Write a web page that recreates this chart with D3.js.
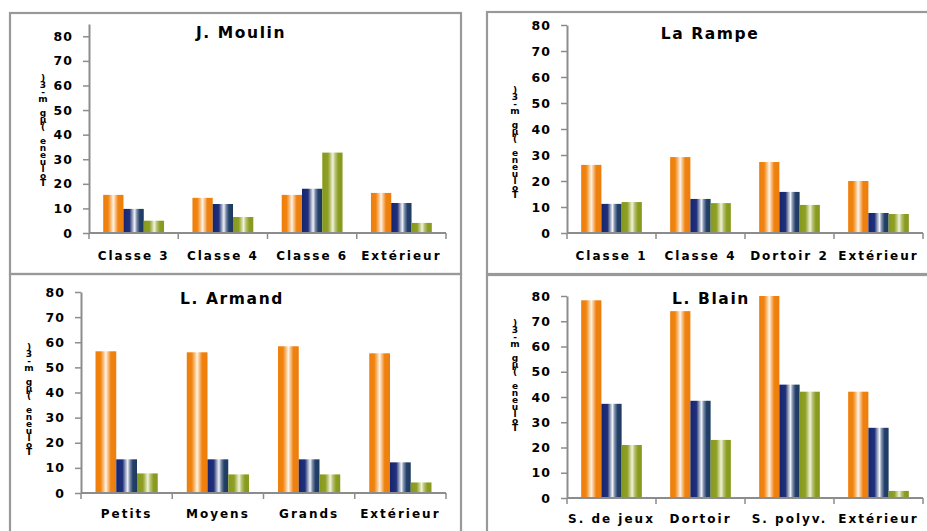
<!DOCTYPE html>
<html>
<head>
<meta charset="utf-8">
<script src="https://cdn.jsdelivr.net/npm/d3@7"></script>
<style>
  html, body { margin: 0; padding: 0; background: #fff; }
  svg { display: block; }
</style>
</head>
<body>
<svg id="chart" width="927" height="531"></svg>
<script>
// Toluene concentrations per site: three series per location
const yTicks = [0, 10, 20, 30, 40, 50, 60, 70, 80];
const yAxisLabel = "Toluene (µg m-3)";

const moulinTitle = "J. Moulin";
const moulinCategories = ["Classe 3", "Classe 4", "Classe 6", "Extérieur"];
const moulinS1 = [15.5, 14.3, 15.5, 16.3];
const moulinS2 = [9.8, 11.8, 18.0, 12.2];
const moulinS3 = [5.0, 6.5, 32.7, 4.1];

const rampeTitle = "La Rampe";
const rampeCategories = ["Classe 1", "Classe 4", "Dortoir 2", "Extérieur"];
const rampeS1 = [26.2, 29.2, 27.3, 20.0];
const rampeS2 = [11.2, 13.1, 15.8, 7.7];
const rampeS3 = [11.9, 11.5, 10.8, 7.3];

const armandTitle = "L. Armand";
const armandCategories = ["Petits", "Moyens", "Grands", "Extérieur"];
const armandS1 = [56.4, 56.0, 58.4, 55.6];
const armandS2 = [13.4, 13.4, 13.4, 12.2];
const armandS3 = [7.8, 7.4, 7.4, 4.2];

const blainTitle = "L. Blain";
const blainCategories = ["S. de jeux", "Dortoir", "S. polyv.", "Extérieur"];
const blainS1 = [78.3, 74.0, 80.0, 42.1];
const blainS2 = [37.3, 38.5, 44.9, 27.8];
const blainS3 = [21.0, 23.0, 42.1, 2.8];

// Panel geometry (frame, plot area, text anchors)
const panels = [
  { title: moulinTitle, cats: moulinCategories, series: [moulinS1, moulinS2, moulinS3],
    frame: [10, 13, 451, 261], left: 89, right: 446, y0: 233, yTop: 24, yMax: 85,
    titleX: 241, titleY: 38, catY: 260, labX: 43, labTop: 81 },
  { title: rampeTitle, cats: rampeCategories, series: [rampeS1, rampeS2, rampeS3],
    frame: [487, 12, 460, 262], left: 567, right: 923, y0: 233, yTop: 25, yMax: 80,
    titleX: 710, titleY: 39, catY: 260, labX: 515, labTop: 93 },
  { title: armandTitle, cats: armandCategories, series: [armandS1, armandS2, armandS3],
    frame: [10, 274, 451, 280], left: 81, right: 446, y0: 493, yTop: 292, yMax: 80,
    titleX: 232, titleY: 304, catY: 518, labX: 29, labTop: 350 },
  { title: blainTitle, cats: blainCategories, series: [blainS1, blainS2, blainS3],
    frame: [487, 275, 460, 280], left: 567, right: 923, y0: 498, yTop: 296, yMax: 80,
    titleX: 711, titleY: 304, catY: 523, labX: 515, labTop: 326 }
];

const svg = d3.select("#chart");
const defs = svg.append("defs");

// Cylinder-like horizontal shading for each series
const gradients = [
  { id: "gOrange", stops: [[0, "#EE7E0C"], [0.24, "#F0840F"], [0.38, "#F7BC7A"], [0.5, "#FFF4E8"], [0.6, "#F8C28A"], [0.74, "#EF820F"], [1, "#EE7E0C"]] },
  { id: "gBlue", stops: [[0, "#172570"], [0.3, "#20307A"], [0.45, "#A0AAC2"], [0.55, "#F0F2F6"], [0.66, "#7A8BA8"], [0.8, "#23406A"], [1, "#1E3A5E"]] },
  { id: "gGreen", stops: [[0, "#879A1C"], [0.28, "#8F9F26"], [0.42, "#C6CE88"], [0.52, "#F2F4DC"], [0.64, "#B8C276"], [0.8, "#8B9C20"], [1, "#869A1C"]] }
];
gradients.forEach(g => {
  const lg = defs.append("linearGradient").attr("id", g.id)
    .attr("x1", "0%").attr("x2", "100%").attr("y1", "0%").attr("y2", "0%");
  g.stops.forEach(([o, c]) => lg.append("stop").attr("offset", o).attr("stop-color", c));
});

const fontFamily = "'DejaVu Sans', Verdana, sans-serif";
const axisColor = "#8c8c8c";

panels.forEach(p => {
  const g = svg.append("g");

  // panel frame
  g.append("rect")
    .attr("x", p.frame[0]).attr("y", p.frame[1])
    .attr("width", p.frame[2]).attr("height", p.frame[3])
    .attr("fill", "none").attr("stroke", "#999").attr("stroke-width", 2.2);

  const y = d3.scaleLinear().domain([0, p.yMax]).range([p.y0, p.yTop]);
  const x0 = d3.scaleBand().domain(p.cats).range([p.left, p.right]).padding(0);
  const x1 = d3.scaleBand().domain([0, 1, 2]).range([0, x0.bandwidth()])
    .paddingInner(0).paddingOuter(0.7);

  // bars
  p.series.forEach((vals, si) => {
    g.selectAll(null).data(vals).join("rect")
      .attr("x", (d, i) => x0(p.cats[i]) + x1(si))
      .attr("y", d => y(d))
      .attr("width", x1.bandwidth())
      .attr("height", d => y(0) - y(d))
      .attr("fill", `url(#${gradients[si].id})`);
  });

  // y axis
  const yAxis = g.append("g").attr("transform", `translate(${p.left},0)`)
    .call(d3.axisLeft(y).tickValues(yTicks).tickSize(6).tickPadding(10).tickSizeOuter(0));
  yAxis.select(".domain").attr("stroke", axisColor).attr("stroke-width", 2);
  yAxis.selectAll(".tick line").attr("stroke", axisColor).attr("stroke-width", 1.5);
  yAxis.selectAll(".tick text")
    .attr("fill", "#000").style("font-family", fontFamily)
    .style("font-size", "12.5px").style("font-weight", "bold").style("letter-spacing", "1px");

  // x axis with ticks on band boundaries
  const xg = g.append("g");
  xg.append("line")
    .attr("x1", p.left).attr("x2", p.right).attr("y1", y(0)).attr("y2", y(0))
    .attr("stroke", axisColor).attr("stroke-width", 2);
  const bounds = p.cats.map(c => x0(c)).concat([x0.range()[1]]);
  xg.selectAll(null).data(bounds).join("line")
    .attr("x1", d => d).attr("x2", d => d)
    .attr("y1", y(0)).attr("y2", y(0) + 6)
    .attr("stroke", axisColor).attr("stroke-width", 1.5);
  xg.selectAll(null).data(p.cats).join("text")
    .attr("x", d => x0(d) + x0.bandwidth() / 2)
    .attr("y", p.catY)
    .attr("text-anchor", "middle")
    .style("font-family", fontFamily).style("font-size", "12px")
    .style("font-weight", "bold").style("letter-spacing", "2px")
    .text(d => d);

  // title
  g.append("text")
    .attr("x", p.titleX).attr("y", p.titleY).attr("text-anchor", "middle")
    .style("font-family", fontFamily).style("font-size", "15.5px")
    .style("font-weight", "bold").style("letter-spacing", "1.6px")
    .text(p.title);

  // axis title: upright letters stacked, reading upward from the bottom
  const chars = Array.from(yAxisLabel).reverse();
  const lab = g.append("text")
    .attr("text-anchor", "middle")
    .style("font-family", fontFamily).style("font-size", "9px").style("font-weight", "bold");
  chars.forEach((ch, i) => {
    lab.append("tspan")
      .attr("x", p.labX).attr("y", p.labTop + i * 7)
      .text(ch === " " ? "\u00a0" : ch);
  });
});
</script>
</body>
</html>
